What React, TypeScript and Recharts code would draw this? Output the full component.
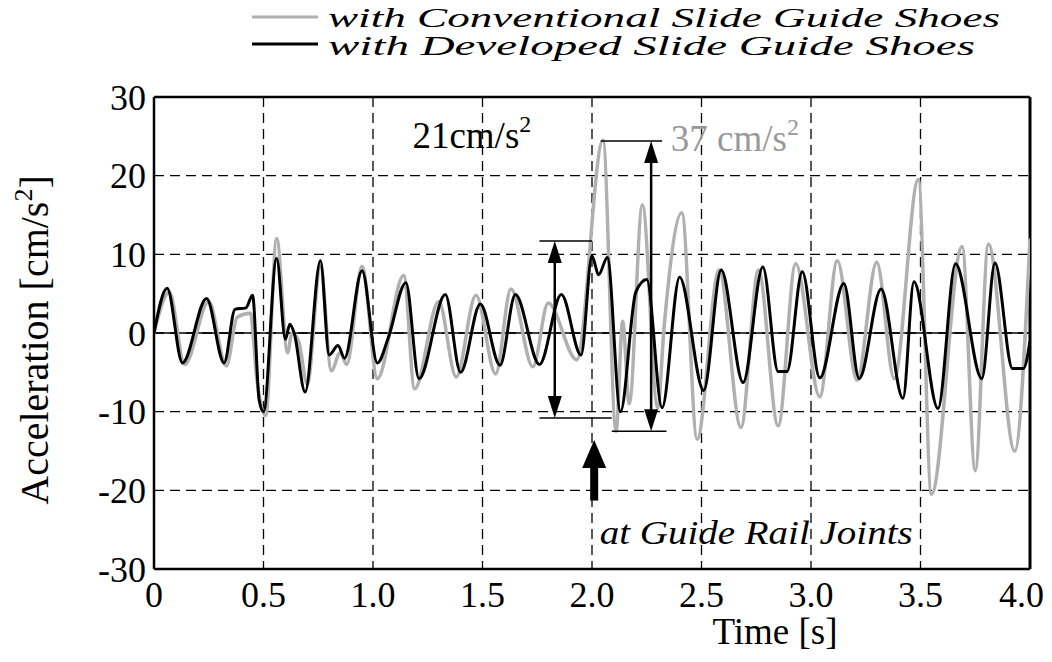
import React from 'react';
import {
  LineChart,
  Line,
  XAxis,
  YAxis,
  CartesianGrid,
  ReferenceLine,
  ReferenceDot,
} from 'recharts';

// time [s] / acceleration [cm/s2], peaks and troughs
const devTime = [
  0, 0.06, 0.13, 0.24, 0.32, 0.37, 0.42, 0.45, 0.48, 0.5, 0.56, 0.6, 0.62, 0.64, 0.69, 0.76,
  0.8, 0.84, 0.87, 0.95, 1.02, 1.07, 1.15, 1.21, 1.33, 1.4, 1.49, 1.58, 1.65, 1.76, 1.86, 1.95,
  2.0, 2.03, 2.07, 2.13, 2.2, 2.25, 2.32, 2.4, 2.51, 2.59, 2.69, 2.78, 2.85, 2.89, 2.96, 3.04,
  3.15, 3.22, 3.32, 3.42, 3.47, 3.58, 3.66, 3.78, 3.84, 3.92, 3.97, 4.0,
];
const devAccel = [
  0, 5.7, -3.8, 4.4, -3.8, 3.0, 3.2, 4.8, -8.5, -10, 9.5, -0.8, 1.1, 0, -7.5, 9.2,
  -2.8, -1.6, -3.2, 7.9, -3.8, -0.6, 6.4, -5.8, 4.9, -5.0, 3.7, -4.1, 4.9, -4.0, 4.9, -2.8,
  9.8, 7.4, 9.6, -10, 5.2, 6.8, -9.5, 7.1, -7.3, 8.0, -6.3, 8.4, -4.9, -4.9, 7.8, -5.7,
  6.3, -5.8, 5.6, -8.3, 6.5, -9.6, 8.8, -5.8, 8.9, -4.5, -4.5, -1.0,
];

const convTime = [
  0, 0.07, 0.14, 0.25, 0.33, 0.38, 0.44, 0.47, 0.51, 0.56, 0.61, 0.63, 0.66, 0.7, 0.76, 0.81,
  0.85, 0.88, 0.95, 1.02, 1.14, 1.19, 1.3, 1.38, 1.47, 1.56, 1.63, 1.73, 1.8, 1.93, 2.05, 2.11,
  2.14, 2.17, 2.23, 2.3, 2.33, 2.41, 2.48, 2.58, 2.68, 2.76, 2.85, 2.93, 3.04, 3.12, 3.21, 3.3,
  3.38, 3.49, 3.55, 3.69, 3.75, 3.81, 3.93, 4.0,
];
const convAccel = [
  0, 5.2, -4.0, 4.0, -4.2, 2.0, 2.5, -6.0, -10.5, 12.0, -2.5, 0, -1.0, -6.5, 8.5, -4.8,
  -2.5, -4.0, 8.5, -5.8, 7.3, -7.1, 4.0, -5.6, 4.8, -5.2, 5.6, -4.3, 3.8, -3.4, 24.5, -12.5,
  1.5, -9.0, 16.3, -9.5, 1.0, 15.3, -13.5, 8.0, -12.0, 8.0, -11.8, 8.8, -8.1, 9.2, -6.0, 9.0,
  -5.8, 19.5, -20.5, 11.0, -17.5, 11.3, -15.0, 12.0,
];

const xTicks = [0, 0.5, 1, 1.5, 2, 2.5, 3, 3.5, 4];
const yTicks = [-30, -20, -10, 0, 10, 20, 30];

const devData = devTime.map((t, i) => ({ t, a: devAccel[i] }));
const convData = convTime.map((t, i) => ({ t, a: convAccel[i] }));

const SERIF = '"Liberation Serif", "Times New Roman", serif';

const DoubleArrow = (p: any) => {
  const { x1, y1, y2 } = p;
  const top = Math.min(y1, y2);
  const bot = Math.max(y1, y2);
  return (
    <g>
      <line x1={x1} y1={top + 6} x2={x1} y2={bot - 6} stroke="#000" strokeWidth={2.5} />
      <polygon points={`${x1},${top} ${x1 - 7},${top + 22} ${x1 + 7},${top + 22}`} fill="#000" />
      <polygon points={`${x1},${bot} ${x1 - 7},${bot - 22} ${x1 + 7},${bot - 22}`} fill="#000" />
    </g>
  );
};

const UpArrow = (p: any) => {
  const { x1, y1, y2 } = p;
  const tip = Math.min(y1, y2);
  const tail = Math.max(y1, y2);
  return (
    <g>
      <rect x={x1 - 4} y={tip + 26} width={8} height={tail - tip - 26} fill="#000" />
      <polygon points={`${x1},${tip} ${x1 - 12},${tip + 28} ${x1 + 12},${tip + 28}`} fill="#000" />
    </g>
  );
};

const unitText = (value: string, color: string) => (p: any) => (
  <text x={p.cx} y={p.cy} fontFamily={SERIF} fontSize={37} fill={color}>
    {value}cm/s
    <tspan fontSize={24} dy={-16}>2</tspan>
  </text>
);

const jointText = (p: any) => (
  <text
    x={p.cx}
    y={p.cy}
    fontFamily={SERIF}
    fontStyle="italic"
    fontSize={34}
    textLength={313}
    lengthAdjust="spacingAndGlyphs"
    fill="#000"
  >
    at Guide Rail Joints
  </text>
);

export default function App() {
  return (
    <div style={{ position: 'relative', width: 1036, height: 646 }}>
      <LineChart
        width={1036}
        height={646}
        margin={{ top: 89, right: 14, left: 46, bottom: 35 }}
      >
        <CartesianGrid stroke="#000" strokeWidth={1.3} strokeDasharray="10 6" />
        <XAxis
          dataKey="t"
          type="number"
          domain={[0, 4]}
          ticks={xTicks}
          allowDataOverflow
          height={50}
          tickLine={false}
          tickMargin={6}
          tickFormatter={(v: number) => (v === 0 ? '0' : v.toFixed(1))}
          tick={{ fontFamily: SERIF, fontSize: 36, fill: '#000' }}
          axisLine={{ stroke: '#000', strokeWidth: 2.5 }}
        />
        <YAxis
          type="number"
          domain={[-30, 30]}
          ticks={yTicks}
          allowDataOverflow
          width={100}
          tickLine={false}
          tick={{ fontFamily: SERIF, fontSize: 36, fill: '#000' }}
          axisLine={{ stroke: '#000', strokeWidth: 2.5 }}
        />
        <ReferenceLine y={0} stroke="#000" strokeWidth={1.3} />
        <ReferenceLine y={30} stroke="#000" strokeWidth={2.5} />
        <ReferenceLine x={4} stroke="#000" strokeWidth={3} />
        <Line
          data={convData}
          dataKey="a"
          type="monotone"
          stroke="#b0b0b0"
          strokeWidth={3.5}
          dot={false}
          isAnimationActive={false}
        />
        <Line
          data={devData}
          dataKey="a"
          type="monotone"
          stroke="#000"
          strokeWidth={3}
          dot={false}
          isAnimationActive={false}
        />
        {/* 21 cm/s2 bracket */}
        <ReferenceLine segment={[{ x: 1.76, y: 11.7 }, { x: 2.0, y: 11.7 }]} stroke="#000" strokeWidth={1.5} />
        <ReferenceLine segment={[{ x: 1.76, y: -10.8 }, { x: 2.09, y: -10.8 }]} stroke="#000" strokeWidth={1.5} />
        <ReferenceLine segment={[{ x: 1.83, y: 11.7 }, { x: 1.83, y: -10.8 }]} shape={DoubleArrow} />
        {/* 37 cm/s2 bracket */}
        <ReferenceLine segment={[{ x: 2.04, y: 24.4 }, { x: 2.32, y: 24.4 }]} stroke="#000" strokeWidth={1.5} />
        <ReferenceLine segment={[{ x: 2.09, y: -12.5 }, { x: 2.34, y: -12.5 }]} stroke="#000" strokeWidth={1.5} />
        <ReferenceLine segment={[{ x: 2.27, y: 24.4 }, { x: 2.27, y: -12.5 }]} shape={DoubleArrow} />
        {/* guide rail joint marker */}
        <ReferenceLine segment={[{ x: 2.01, y: -13.6 }, { x: 2.01, y: -21.3 }]} shape={UpArrow} />
        <ReferenceDot x={1.18} y={23.5} r={0} shape={unitText('21', '#000')} />
        <ReferenceDot x={2.36} y={23.1} r={0} shape={unitText('37 ', '#999999')} />
        <ReferenceDot x={2.035} y={-26.8} r={0} shape={jointText} />
      </LineChart>
      <svg
        width={1036}
        height={646}
        style={{ position: 'absolute', left: 0, top: -8, pointerEvents: 'none', overflow: 'visible' }}
      >
        <line x1={244} y1={17} x2={310} y2={17} stroke="#b0b0b0" strokeWidth={3} />
        <text
          x={320}
          y={27}
          fontFamily={SERIF}
          fontStyle="italic"
          fontSize={27}
          textLength={672}
          lengthAdjust="spacingAndGlyphs"
        >
          with Conventional Slide Guide Shoes
        </text>
        <line x1={244} y1={44} x2={310} y2={44} stroke="#000" strokeWidth={3} />
        <text
          x={320}
          y={55}
          fontFamily={SERIF}
          fontStyle="italic"
          fontSize={27}
          textLength={647}
          lengthAdjust="spacingAndGlyphs"
        >
          with Developed Slide Guide Shoes
        </text>
        <text x={767} y={644} fontFamily={SERIF} fontSize={37} textAnchor="middle">
          Time [s]
        </text>
        <text
          x={40}
          y={340}
          transform="rotate(-90 40 340)"
          fontFamily={SERIF}
          fontSize={40}
          textAnchor="middle"
        >
          Acceleration [cm/s
          <tspan fontSize={26} dy={-16}>2</tspan>
          <tspan dy={16}>]</tspan>
        </text>
      </svg>
    </div>
  );
}
